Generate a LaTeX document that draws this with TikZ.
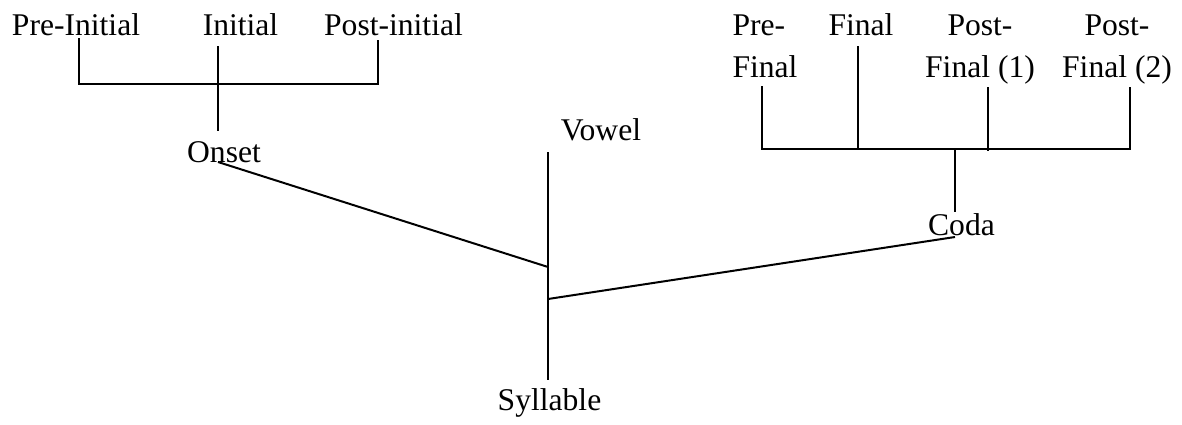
\documentclass[tikz,border=0pt]{standalone}
\usepackage{fontspec}
\setmainfont{Liberation Serif}
\begin{document}
\begin{tikzpicture}[x=0.5pt,y=-0.5pt,
  lbl/.style={inner sep=0pt,outer sep=0pt,anchor=base,font=\fontsize{15.8}{21}\selectfont},
  twoline/.style={lbl,align=center},
  branch/.style={line width=1pt,line cap=butt}]
\useasboundingbox (0,0) rectangle (1182,424);
% labels
\node[lbl] (preini) at (76,35) {Pre-Initial};
\node[lbl] (ini) at (240.5,35) {Initial};
\node[lbl] (postini) at (393.5,35) {Post-initial};
\node[lbl] (onset) at (224,162) {Onset};
\node[lbl] (vowel) at (601,140) {Vowel};
\node[lbl] (syll) at (549.5,410) {Syllable};
\node[lbl] (coda) at (961.5,235) {Coda};
\node[twoline,align=left] (prefin) at (765,77) {Pre-\\Final};
\node[lbl] (fin) at (861,35) {Final};
\node[twoline] (postfinA) at (980,77) {Post-\\Final (1)};
\node[twoline] (postfinB) at (1117,77) {Post-\\Final (2)};
% junction coordinates
\coordinate (a1) at (79,38);
\coordinate (a2) at (79,84);
\coordinate (a3) at (378,84);
\coordinate (a4) at (378,40);
\coordinate (i1) at (218,46);
\coordinate (i2) at (218,131);
\coordinate (o1) at (218,162);
\coordinate (s1) at (548,267);
\coordinate (v1) at (548,152);
\coordinate (s2) at (548,380);
\coordinate (s3) at (548,299);
\coordinate (c1) at (955,237);
\coordinate (b1) at (762,86);
\coordinate (b2) at (762,149);
\coordinate (b3) at (1130,149);
\coordinate (b4) at (1130,87);
\coordinate (f1) at (858,46);
\coordinate (f2) at (858,149);
\coordinate (p1) at (988,87);
\coordinate (p2) at (988,151);
\coordinate (c2) at (955,149);
\coordinate (c3) at (955,212);
% connectors
\draw[branch] (a1) -- (a2) -- (a3) -- (a4);
\draw[branch] (i1) -- (i2);
\draw[branch] (o1) -- (s1);
\draw[branch] (v1) -- (s2);
\draw[branch] (s3) -- (c1);
\draw[branch] (b1) -- (b2) -- (b3) -- (b4);
\draw[branch] (f1) -- (f2);
\draw[branch] (p1) -- (p2);
\draw[branch] (c2) -- (c3);
\end{tikzpicture}
\end{document}
